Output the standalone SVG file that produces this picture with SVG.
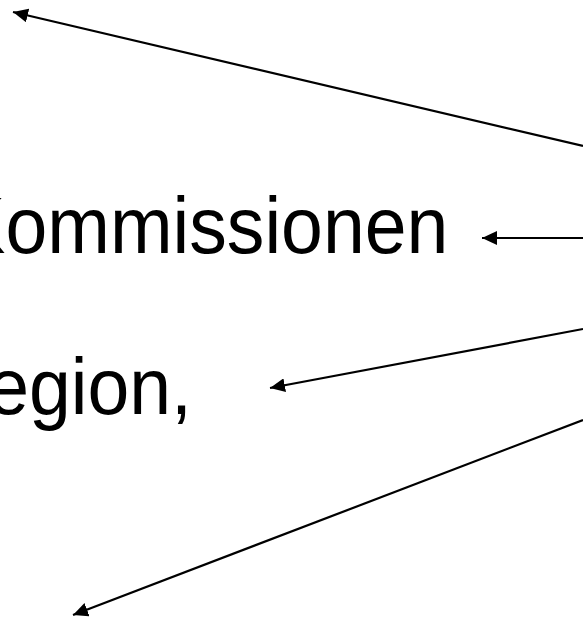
<svg xmlns="http://www.w3.org/2000/svg" width="583" height="621" viewBox="0 0 583 621">
<style>
.t{font-family:"Liberation Sans",Arial,sans-serif;font-size:80px;fill:#000}
.c{stroke:#000;stroke-width:2.2;fill:none;marker-end:url(#ah)}
</style>
<defs>
<marker id="ah" markerUnits="userSpaceOnUse" markerWidth="16" markerHeight="14" refX="15" refY="7" orient="auto">
<path d="M0,0 L15,7 L0,14 z" fill="#000"/>
</marker>
</defs>
<rect width="583" height="621" fill="#fff"/>
<g id="node-kommissionen"><text class="t" transform="scale(0.94,1)" x="477" y="253" text-anchor="end">Kommissionen</text></g>
<g id="node-region"><text class="t" transform="scale(0.94,1)" x="-13.7" y="414">egion,</text></g>
<g id="connectors">
<line class="c" x1="583" y1="146" x2="13" y2="12"/>
<line class="c" x1="583" y1="238" x2="482" y2="238"/>
<line class="c" x1="583" y1="329" x2="270" y2="388"/>
<line class="c" x1="583" y1="420" x2="73" y2="615"/>
</g>
</svg>
